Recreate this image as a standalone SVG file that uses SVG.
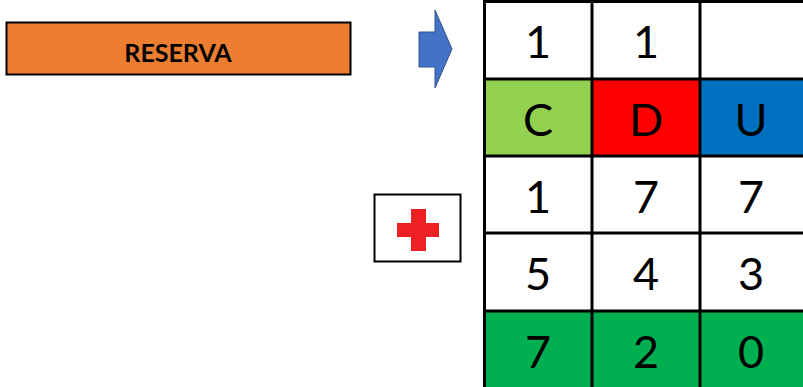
<svg xmlns="http://www.w3.org/2000/svg" width="803" height="387" viewBox="0 0 803 387">
<style>
.t{font-family:Lato,"Open Sans","Liberation Sans",sans-serif;font-size:45px;fill:#000;text-anchor:middle}
.g{stroke:#000;stroke-width:3;fill:none}
</style>
<rect width="803" height="387" fill="#fff"/>
<g id="reserva">
<rect x="6.5" y="22.5" width="344" height="52" fill="#ED7D31" stroke="#000" stroke-width="2"/>
<text x="178" y="62" font-family="Lato,'Open Sans','Liberation Sans',sans-serif" font-size="25" font-weight="bold" text-anchor="middle">RESERVA</text>
</g>
<g id="arrow">
<polygon points="419,32 435,32 435,10 452,49 435,88 435,67 419,67" fill="#4472C4" stroke="#2F528F" stroke-width="1"/>
</g>
<g id="plus">
<rect x="374.5" y="194.5" width="86" height="67" fill="#fff" stroke="#000" stroke-width="2"/>
<rect x="397" y="223" width="42" height="14" fill="#ED2024"/>
<rect x="411" y="209" width="15" height="42" fill="#ED2024"/>
</g>
<g id="grid">
<rect x="484" y="79" width="108" height="77" fill="#92D050"/>
<rect x="592" y="79" width="108" height="77" fill="#FF0000"/>
<rect x="700" y="79" width="103" height="77" fill="#0070C0"/>
<rect x="484" y="311" width="319" height="76" fill="#00B050"/>
<path class="g" d="M484.5,0V387M592,0V387M700,0V387M484,1.5H803M484,79H803M484,156H803M484,233H803M484,311H803"/>
<text class="t" x="538" y="58">1</text>
<text class="t" x="646" y="58">1</text>
<text class="t" x="538" y="136">C</text>
<text class="t" x="646" y="136">D</text>
<text class="t" x="751" y="136">U</text>
<text class="t" x="538" y="213">1</text>
<text class="t" x="646" y="213">7</text>
<text class="t" x="751" y="213">7</text>
<text class="t" x="538" y="290">5</text>
<text class="t" x="646" y="290">4</text>
<text class="t" x="751" y="290">3</text>
<text class="t" x="538" y="368">7</text>
<text class="t" x="646" y="368">2</text>
<text class="t" x="751" y="368">0</text>
</g>
</svg>
